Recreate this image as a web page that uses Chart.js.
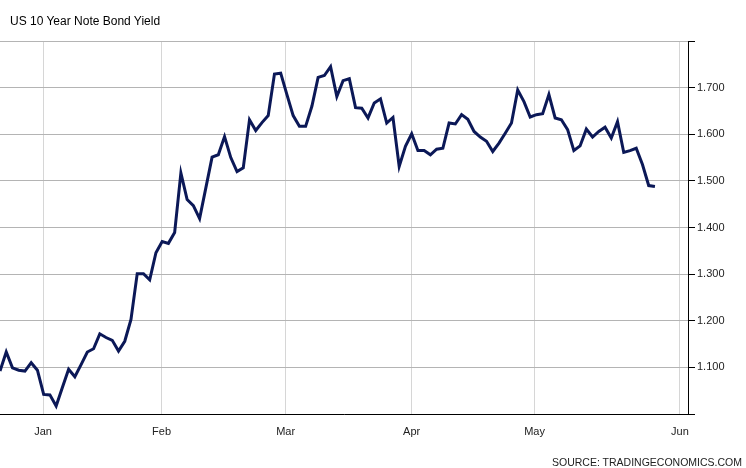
<!DOCTYPE html>
<html>
<head>
<meta charset="utf-8">
<script src="https://cdn.jsdelivr.net/npm/chart.js@4"></script>
<style>
    body { margin: 0; background: #fff; }
    #wrap { position: relative; width: 746px; height: 468px; }
    #title {
        position: absolute; left: 10px; top: 14px;
        font: 12px "Liberation Sans", Arial, sans-serif; color: #000;
    }
    #source {
        position: absolute; right: 4px; top: 456px;
        font: 10.5px "Liberation Sans", Arial, sans-serif; color: #222;
    }
</style>
</head>
<body>
<div id="wrap">
    <canvas id="yieldChart"></canvas>
    <div id="title">US 10 Year Note Bond Yield</div>
    <div id="source">SOURCE: TRADINGECONOMICS.COM</div>
</div>
<script>
// daily closes, one per trading day (index = day number)
const yieldValues = [
    1.092, 1.133, 1.099, 1.094, 1.092, 1.110, 1.094, 1.042, 1.041, 1.017,
    1.057, 1.096, 1.080, 1.106, 1.133, 1.140, 1.172, 1.164, 1.158, 1.135,
    1.156, 1.203, 1.301, 1.301, 1.288, 1.346, 1.370, 1.366, 1.389, 1.517,
    1.460, 1.447, 1.419, 1.485, 1.551, 1.556, 1.595, 1.550, 1.520, 1.528,
    1.631, 1.608, 1.625, 1.640, 1.729, 1.731, 1.685, 1.640, 1.617, 1.617,
    1.660, 1.722, 1.726, 1.745, 1.681, 1.715, 1.719, 1.657, 1.656, 1.635,
    1.667, 1.676, 1.624, 1.636, 1.531, 1.574, 1.601, 1.565, 1.565, 1.556,
    1.568, 1.570, 1.624, 1.622, 1.642, 1.632, 1.606, 1.594, 1.585, 1.563,
    1.581, 1.602, 1.624, 1.695, 1.670, 1.637, 1.642, 1.644, 1.685, 1.635,
    1.631, 1.610, 1.565, 1.575, 1.611, 1.594, 1.606, 1.615, 1.592, 1.627,
    1.561, 1.565, 1.570, 1.535, 1.490, 1.488
];

// where the month boundaries fall on the day index
const monthLabels = ["Jan", "Feb", "Mar", "Apr", "May", "Jun"];
const monthPositions = [6.9, 25.9, 45.8, 66.0, 85.7, 109.0];

const yTicks = [1.0, 1.1, 1.2, 1.3, 1.4, 1.5, 1.6, 1.7, 1.8];

document.addEventListener("DOMContentLoaded", function () {
    const ctx = document.getElementById("yieldChart").getContext("2d");

    const points = yieldValues.map((v, i) => ({ x: i, y: v }));

    new Chart(ctx, {
        type: "line",
        data: {
            datasets: [
                {
                    label: "US 10Y",
                    data: points,
                    borderColor: "#0b1857",
                    borderWidth: 3,
                    pointRadius: 0,
                    tension: 0,
                    fill: false,
                },
            ],
        },
        options: {
            responsive: true,
            maintainAspectRatio: false,
            animation: false,
            layout: { padding: { top: 41, bottom: 26, left: 0, right: 0 } },
            plugins: {
                legend: { display: false },
                tooltip: { enabled: false },
            },
            scales: {
                x: {
                    type: "linear",
                    min: 0,
                    max: 110.3,
                    afterBuildTicks: function (scale) {
                        scale.ticks = monthPositions.map((p) => ({ value: p }));
                    },
                    afterFit: function (scale) {
                        scale.height = 28;
                    },
                    grid: { color: "#d6d6d6", drawTicks: false },
                    border: { color: "#000", width: 1 },
                    ticks: {
                        padding: 11,
                        color: "#222",
                        font: { family: "Liberation Sans, Arial", size: 11 },
                        maxRotation: 0,
                        callback: function (value) {
                            const k = monthPositions.indexOf(value);
                            return k >= 0 ? monthLabels[k] : "";
                        },
                    },
                },
                y: {
                    position: "right",
                    min: 1.0,
                    max: 1.8,
                    afterBuildTicks: function (scale) {
                        scale.ticks = yTicks.map((t) => ({ value: t }));
                    },
                    afterFit: function (scale) {
                        scale.width = 58;
                    },
                    grid: { color: "#b4b4b4", tickColor: "#000", tickLength: 7 },
                    border: { color: "#000", width: 1 },
                    ticks: {
                        padding: 2,
                        color: "#222",
                        font: { family: "Liberation Sans, Arial", size: 11 },
                        callback: function (value) {
                            // end ticks are left unlabelled like the original
                            if (value <= 1.0001 || value >= 1.7999) return "";
                            return value.toFixed(3);
                        },
                    },
                },
            },
        },
    });
});
</script>
</body>
</html>
